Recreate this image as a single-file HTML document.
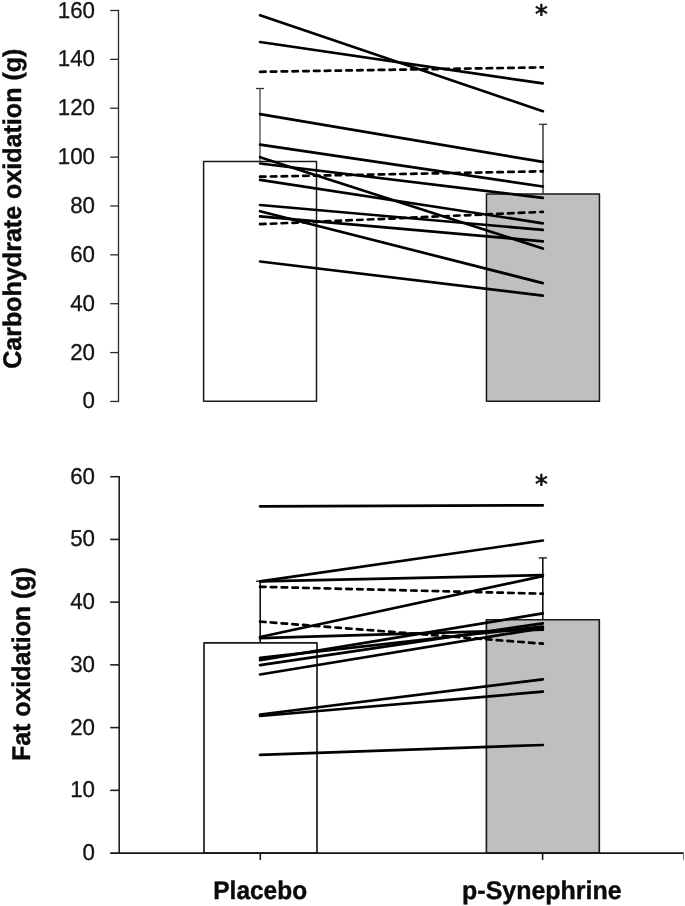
<!DOCTYPE html>
<html lang="en">
<head>
<meta charset="utf-8">
<title>Carbohydrate and fat oxidation: Placebo vs p-Synephrine</title>
<style>
html,body{margin:0;padding:0;background:#fff;}
body{width:685px;height:906px;overflow:hidden;font-family:"Liberation Sans",sans-serif;}
svg{display:block;}
text{text-rendering:geometricPrecision;}
.tl text{font-family:"Liberation Sans",sans-serif;font-size:22.9px;fill:#151515;stroke:#151515;stroke-width:0.3px;}
.bl{font-family:"Liberation Sans",sans-serif;font-weight:bold;font-size:25.6px;fill:#0a0a0a;stroke:#0a0a0a;stroke-width:0.4px;}
.star{font-family:"DejaVu Sans","Liberation Sans",sans-serif;font-size:25.5px;fill:#111;stroke:#111;stroke-width:0.75px;stroke-linejoin:round;}
</style>
</head>
<body>
<svg width="685" height="906" viewBox="0 0 685 906">
<rect x="0" y="0" width="685" height="906" fill="#ffffff"/>

<!-- ===== TOP CHART: Carbohydrate oxidation ===== -->
<g id="top-bars" stroke="#181818" stroke-width="1.5" stroke-linejoin="round">
<rect x="203.6" y="161.45" width="112.9" height="239.85" fill="#ffffff"/>
<rect x="486.45" y="193.9" width="113.0" height="207.4" fill="#bfbfbf"/>
</g>
<g id="top-err" stroke="#444" stroke-width="1.3" fill="none">
<line x1="260" y1="88.5" x2="260" y2="161.45"/>
<line x1="256" y1="88.5" x2="264" y2="88.5" stroke="#333"/>
<line x1="543" y1="124.3" x2="543" y2="193.9" stroke="#333" stroke-width="1.45"/>
<line x1="539" y1="124.3" x2="547" y2="124.3" stroke="#333"/>
</g>
<g id="top-axis" stroke="#2a2a2a" stroke-width="1.3" fill="none">
<line x1="118.5" y1="9.85" x2="118.5" y2="402.09999999999997"/>
<line x1="110.2" y1="10.50" x2="118.5" y2="10.50"/>
<line x1="110.2" y1="59.37" x2="118.5" y2="59.37"/>
<line x1="110.2" y1="108.24" x2="118.5" y2="108.24"/>
<line x1="110.2" y1="157.11" x2="118.5" y2="157.11"/>
<line x1="110.2" y1="205.97" x2="118.5" y2="205.97"/>
<line x1="110.2" y1="254.84" x2="118.5" y2="254.84"/>
<line x1="110.2" y1="303.71" x2="118.5" y2="303.71"/>
<line x1="110.2" y1="352.58" x2="118.5" y2="352.58"/>
<line x1="110.2" y1="401.45" x2="118.5" y2="401.45"/>
</g>
<g class="tl" transform="translate(94.1 0) scale(0.975 1) translate(-94.1 0)">
<text x="95.0" y="17.50" text-anchor="end">160</text>
<text x="95.0" y="66.37" text-anchor="end">140</text>
<text x="95.0" y="115.24" text-anchor="end">120</text>
<text x="95.0" y="164.11" text-anchor="end">100</text>
<text x="95.0" y="212.97" text-anchor="end">80</text>
<text x="95.0" y="261.84" text-anchor="end">60</text>
<text x="95.0" y="310.71" text-anchor="end">40</text>
<text x="95.0" y="359.58" text-anchor="end">20</text>
<text x="95.0" y="408.45" text-anchor="end">0</text>
</g>
<g id="top-lines" stroke="#000" stroke-width="2.7" stroke-linecap="round" fill="none">
<line x1="260.05" y1="15.3" x2="542.85" y2="111.2"/>
<line x1="260.05" y1="42.0" x2="542.85" y2="83.4"/>
<line x1="260.05" y1="71.8" x2="542.85" y2="67.4" stroke-dasharray="5.5 5.29"/>
<line x1="260.05" y1="114.2" x2="542.85" y2="161.9"/>
<line x1="260.05" y1="144.7" x2="542.85" y2="186.5"/>
<line x1="260.05" y1="157.2" x2="542.85" y2="248.5"/>
<line x1="260.05" y1="163.5" x2="542.85" y2="197.9"/>
<line x1="260.05" y1="176.7" x2="542.85" y2="171.3" stroke-dasharray="5.5 5.29"/>
<line x1="260.05" y1="179.9" x2="542.85" y2="223.3"/>
<line x1="260.05" y1="205.0" x2="542.85" y2="229.9"/>
<line x1="260.05" y1="211.2" x2="542.85" y2="283.1"/>
<line x1="260.05" y1="216.3" x2="542.85" y2="241.3"/>
<line x1="260.05" y1="224.2" x2="542.85" y2="211.9" stroke-dasharray="5.5 5.29"/>
<line x1="260.05" y1="261.5" x2="542.85" y2="295.6"/>
</g>
<text class="star" x="541.3" y="23.2" text-anchor="middle">*</text>
<text class="bl" transform="translate(21.2 368.8) rotate(-90)" textLength="320.2" lengthAdjust="spacingAndGlyphs">Carbohydrate oxidation (g)</text>

<!-- ===== BOTTOM CHART: Fat oxidation ===== -->
<g id="bot-bars" stroke="#181818" stroke-width="1.65" stroke-linejoin="round">
<rect x="204.0" y="642.85" width="113.0" height="210.2" fill="#ffffff"/>
<rect x="486.4" y="619.7" width="112.9" height="233.35" fill="#bfbfbf"/>
</g>
<g id="bot-err" stroke="#111" stroke-width="1.6" fill="none">
<line x1="260.2" y1="581.2" x2="260.2" y2="642.85"/>
<line x1="256" y1="581.2" x2="264.4" y2="581.2" stroke-width="1.3"/>
<line x1="542.8" y1="557.9" x2="542.8" y2="619.7"/>
<line x1="538.8" y1="557.9" x2="547" y2="557.9" stroke-width="1.3"/>
</g>
<g id="bot-axis" stroke="#1f1f1f" stroke-width="1.6" fill="none">
<line x1="119.2" y1="475.9" x2="119.2" y2="853.8499999999999"/>
<line x1="110.2" y1="476.70" x2="119.2" y2="476.70"/>
<line x1="110.2" y1="539.42" x2="119.2" y2="539.42"/>
<line x1="110.2" y1="602.15" x2="119.2" y2="602.15"/>
<line x1="110.2" y1="664.88" x2="119.2" y2="664.88"/>
<line x1="110.2" y1="727.60" x2="119.2" y2="727.60"/>
<line x1="110.2" y1="790.33" x2="119.2" y2="790.33"/>
<line x1="110.2" y1="853.05" x2="684.0" y2="853.05" stroke="#141414" stroke-width="1.85"/>
<line x1="260.3" y1="853.05" x2="260.3" y2="859.9" stroke="#141414"/>
<line x1="542.6" y1="853.05" x2="542.6" y2="859.9" stroke="#141414"/>
<line x1="683.5" y1="853.05" x2="683.5" y2="859.9" stroke="#777" stroke-width="1.0"/>
</g>
<g class="tl" transform="translate(94.1 0) scale(0.975 1) translate(-94.1 0)">
<text x="95.0" y="483.70" text-anchor="end">60</text>
<text x="95.0" y="546.42" text-anchor="end">50</text>
<text x="95.0" y="609.15" text-anchor="end">40</text>
<text x="95.0" y="671.88" text-anchor="end">30</text>
<text x="95.0" y="734.60" text-anchor="end">20</text>
<text x="95.0" y="797.33" text-anchor="end">10</text>
<text x="95.0" y="860.05" text-anchor="end">0</text>
</g>
<g id="bot-lines" stroke="#000" stroke-width="2.7" stroke-linecap="round" fill="none">
<line x1="260.05" y1="506.3" x2="542.85" y2="505.3"/>
<line x1="260.05" y1="581.3" x2="542.85" y2="540.5"/>
<line x1="260.05" y1="581.3" x2="542.85" y2="575.1"/>
<line x1="260.05" y1="586.8" x2="542.85" y2="593.7" stroke-dasharray="5.5 5.29"/>
<line x1="260.05" y1="621.6" x2="542.85" y2="643.7" stroke-dasharray="5.5 5.29"/>
<line x1="260.05" y1="637.0" x2="542.85" y2="576.1"/>
<line x1="260.05" y1="638.2" x2="542.85" y2="629.6"/>
<line x1="260.05" y1="657.8" x2="542.85" y2="626.6"/>
<line x1="260.05" y1="660.2" x2="542.85" y2="613.4"/>
<line x1="260.05" y1="665.1" x2="542.85" y2="623.3"/>
<line x1="260.05" y1="674.5" x2="542.85" y2="628.1"/>
<line x1="260.05" y1="714.5" x2="542.85" y2="679.4"/>
<line x1="260.05" y1="716.0" x2="542.85" y2="691.7"/>
<line x1="260.05" y1="754.9" x2="542.85" y2="745.0"/>
</g>
<text class="star" x="541.3" y="492.8" text-anchor="middle">*</text>
<text class="bl" transform="translate(30.1 761.1) rotate(-90)" textLength="194.0" lengthAdjust="spacingAndGlyphs">Fat oxidation (g)</text>

<!-- category labels -->
<text class="bl" x="213.3" y="898.9" textLength="93.8" lengthAdjust="spacingAndGlyphs">Placebo</text>
<text class="bl" x="462.1" y="898.9" textLength="159.5" lengthAdjust="spacingAndGlyphs">p-Synephrine</text>
</svg>
</body>
</html>
